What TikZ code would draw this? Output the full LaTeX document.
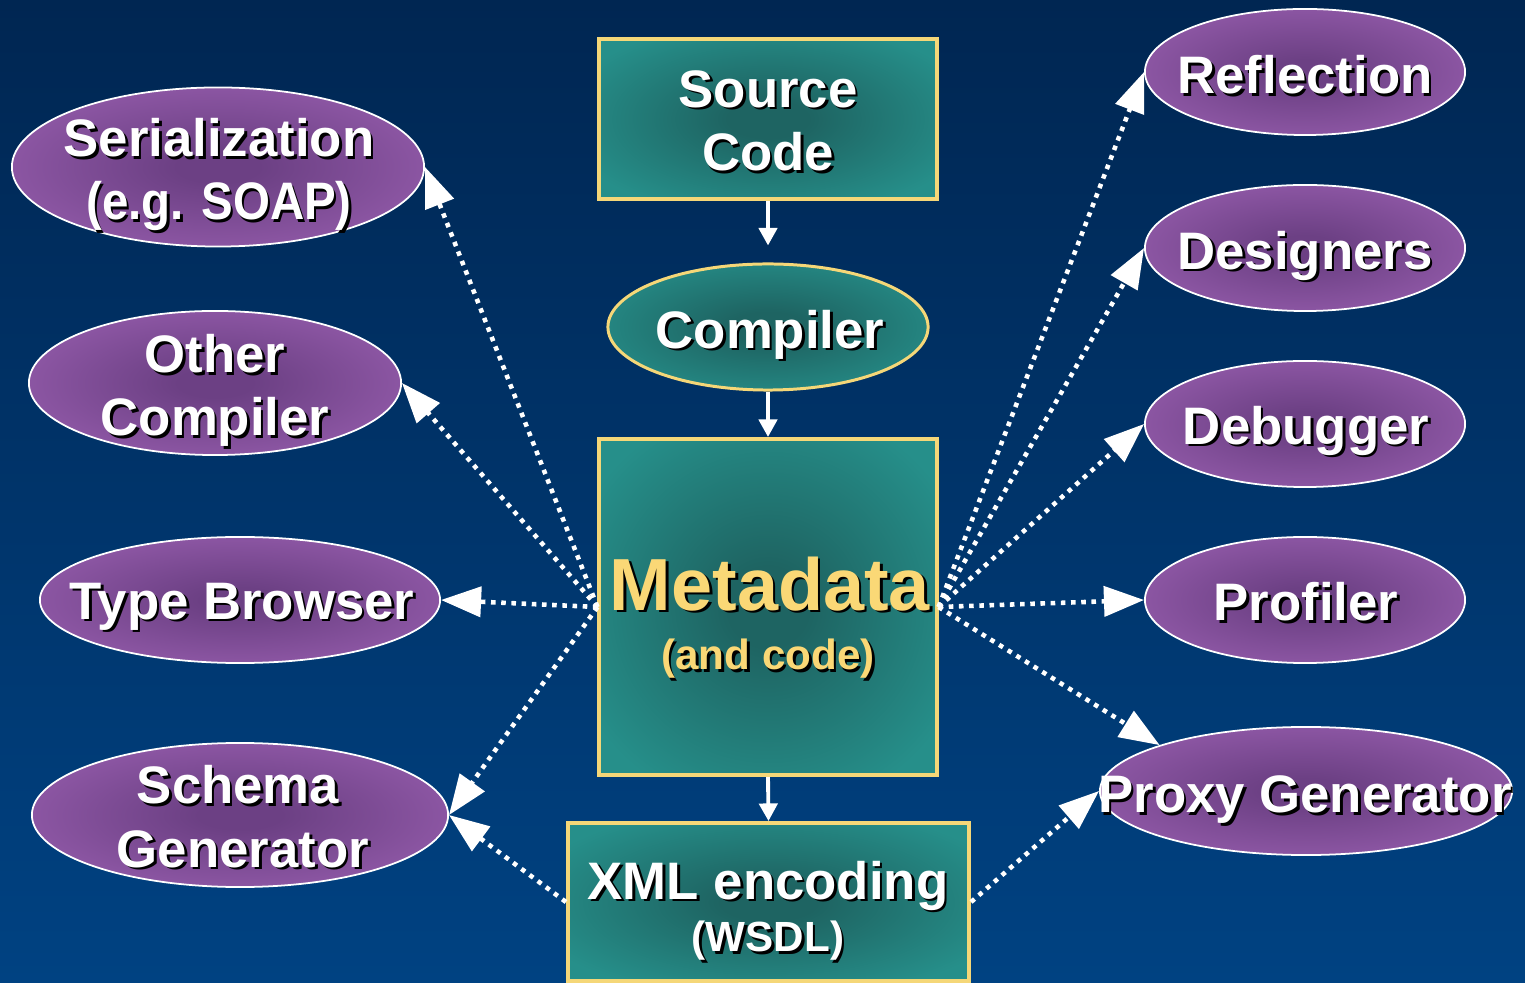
\documentclass[tikz,border=0pt]{standalone}
\usepackage{fontspec}
\setmainfont{Liberation Sans}
\usetikzlibrary{arrows.meta,shapes.geometric}

\definecolor{bgtop}{RGB}{0,38,82}
\definecolor{bgbot}{RGB}{0,66,130}
\definecolor{tealmain}{RGB}{38,143,138}
\definecolor{tealdark}{RGB}{30,100,98}
\definecolor{purpmain}{RGB}{150,93,173}
\definecolor{purpdark}{RGB}{108,64,132}
\definecolor{goldline}{RGB}{245,215,120}
\definecolor{goldtext}{RGB}{250,216,118}

% glow shadings: dark core fading out to the plain fill colour
\pgfdeclareradialshading{tealglow}{\pgfpointorigin}{%
  color(0bp)=(tealdark); color(6bp)=(tealdark); color(31bp)=(tealmain); color(100bp)=(tealmain)}
\pgfdeclareradialshading{purpglow}{\pgfpointorigin}{%
  color(0bp)=(purpdark); color(5bp)=(purpdark); color(32bp)=(purpmain); color(100bp)=(purpmain)}

% text with a small black drop shadow
\newcommand{\sht}[1]{\rlap{\kern0.75pt\raisebox{-0.75pt}{\textcolor{black}{#1}}}#1}

\begin{document}
\begin{tikzpicture}[x=0.01cm,y=-0.01cm,
  tbox/.style={rectangle, draw=goldline, line width=1.1pt, shading=tealglow, inner sep=0pt},
  tell/.style={ellipse, draw=goldline, line width=0.85pt, shading=tealglow, inner sep=0pt},
  pell/.style={ellipse, draw=white, line width=0.5pt, shading=purpglow, inner sep=0pt},
  lbl/.style={font=\bfseries\fontsize{15}{18}\selectfont, text=white, align=center, inner sep=0pt},
  small/.style={font=\bfseries\fontsize{12}{14}\selectfont, align=center, inner sep=0pt},
  flow/.style={draw=white, line width=1.1pt, -{Triangle[length=5pt,width=5.2pt]}},
  dotted link/.style={draw=white, line width=1.3pt, dash pattern=on 1.3pt off 1.6pt,
                      -{Triangle[length=11.4pt,width=8.5pt]}}]

\useasboundingbox (0,0) rectangle (1525,983);
\fill[top color=bgtop, bottom color=bgbot] (0,0) rectangle (1525,983);

% central pipeline
\node[tbox, minimum width=3.37cm, minimum height=1.60cm] (src) at (768,119) {};
\node[lbl] (srct) at (768,122) {\sht{Source}\\\sht{Code}};
\node[tell, minimum width=3.20cm, minimum height=1.26cm] (comp) at (768,327) {};
\node[lbl] (compt) at (770,336) {\sht{Compiler}};
\node[tbox, minimum width=3.37cm, minimum height=3.36cm] (meta) at (768,607) {};
\node[lbl, font=\bfseries\fontsize{21}{24}\selectfont, text=goldtext] (metat) at (770,585) {\sht{Metadata}};
\node[small, text=goldtext] (metas) at (768,660) {\sht{(and code)}};
\node[tbox, minimum width=4.01cm, minimum height=1.58cm] (xml) at (768.5,902) {};
\node[lbl] (xmlt) at (768,887) {\sht{XML encoding}};
\node[small, text=white] (xmls) at (768,942) {\sht{(WSDL)}};

% consumers on the left
\node[pell, minimum width=4.12cm, minimum height=1.59cm] (ser) at (218,167) {};
\node[lbl] (sert) at (219,176) {\sht{Serialization}\\\scalebox{0.9}[1]{\sht{(e.g. SOAP)}}};
\node[pell, minimum width=3.72cm, minimum height=1.44cm] (oc) at (215,383) {};
\node[lbl] (oct) at (215,392) {\sht{Other}\\\sht{Compiler}};
\node[pell, minimum width=4.00cm, minimum height=1.26cm] (tb) at (240,600) {};
\node[lbl] (tbt) at (242,608) {\sht{Type Browser}};
\node[pell, minimum width=4.16cm, minimum height=1.44cm] (sg) at (240,815) {};
\node[lbl] (sgt) at (238,818) {\sht{Schema}\hspace{0.08cm}\\\hspace{0.1cm}\sht{Generator}};

% consumers on the right
\node[pell, minimum width=3.20cm, minimum height=1.26cm] (refl) at (1305,72) {};
\node[lbl] (reflt) at (1305,76) {\sht{Reflection}};
\node[pell, minimum width=3.20cm, minimum height=1.26cm] (des) at (1305,248) {};
\node[lbl] (dest) at (1305,257) {\sht{Designers}};
\node[pell, minimum width=3.20cm, minimum height=1.26cm] (dbg) at (1305,424) {};
\node[lbl] (dbgt) at (1306,432) {\sht{Debugger}};
\node[pell, minimum width=3.20cm, minimum height=1.26cm] (prof) at (1305,600) {};
\node[lbl] (proft) at (1306,603) {\sht{Profiler}};
\node[pell, minimum width=4.12cm, minimum height=1.28cm] (pg) at (1306,791) {};
\node[lbl] (pgt) at (1305,801) {\sht{Proxy Generator}};

% compilation flow
\draw[flow, shorten >=0.17cm] (src.south) -- (comp.north);
\draw[flow] (comp.south) -- (meta.north);
\draw[flow] (meta.south) -- (xml.north);

% metadata consumers
\draw[dotted link] (meta.west) -- (ser.east);
\draw[dotted link] (meta.west) -- (oc.east);
\draw[dotted link] (meta.west) -- (tb.east);
\draw[dotted link] (meta.west) -- (sg.east);
\draw[dotted link] (xml.west) -- (sg.east);
\draw[dotted link] (meta.east) -- (refl.west);
\draw[dotted link] (meta.east) -- (des.west);
\draw[dotted link] (meta.east) -- (dbg.west);
\draw[dotted link] (meta.east) -- (prof.west);
\draw[dotted link] (meta.east) -- (pg.north west);
\draw[dotted link] (xml.east) -- (pg.west);
\end{tikzpicture}
\end{document}
